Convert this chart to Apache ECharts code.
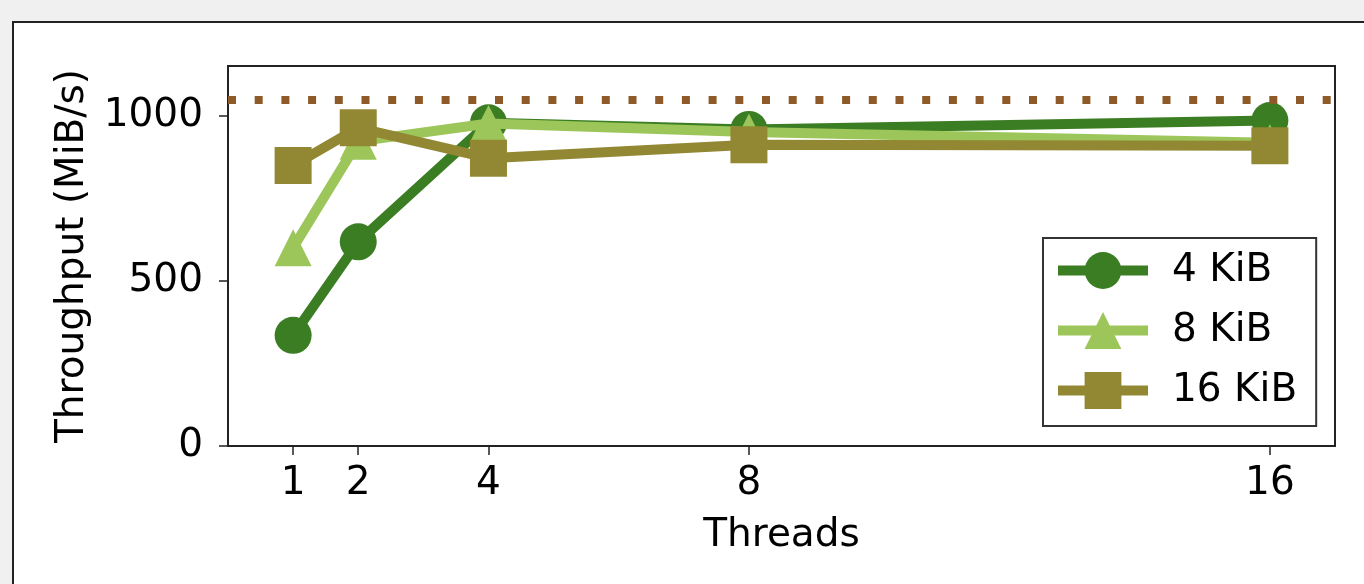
<!DOCTYPE html>
<html lang="en">
<head>
    <title>Throughput vs Threads</title>
    <meta charset="utf-8">
    <style>
        html, body { margin: 0; padding: 0; background: #f0f0f0; overflow: hidden; }
        .panel { position: absolute; left: 12px; top: 21px; width: 1400px; height: 600px;
                 background: #fff; border-left: 2px solid #222; border-top: 2px solid #222; }
        #chart { position: absolute; left: 0; top: 0; width: 1364px; height: 584px; }
    </style>
</head>
<body>
    <div class="panel"></div>
    <div id="chart"></div>
    <script src="https://cdn.jsdelivr.net/npm/echarts@6/dist/echarts.min.js"></script>
    <script type="text/javascript">
        // 数据
        var threads = [1, 2, 4, 8, 16];
        var kib4 = [335, 618, 978, 958, 985];
        var kib8 = [600, 922, 976, 950, 918];
        var kib16 = [849, 963, 871, 912, 909];
        var seriesNames = ["4 KiB", "8 KiB", "16 KiB"];
        var peak = 1047;
        var yTicks = [0, 500, 1000];

        var font = "DejaVu Sans";
        function pairs(vals) {
            return threads.map(function (t, i) { return [t, vals[i]]; });
        }
        function lineSeries(name, vals, color, symbol, z) {
            return {
                name: name,
                type: "line",
                z: z,
                data: pairs(vals),
                symbol: symbol,
                symbolSize: 37,
                lineStyle: { width: 10, color: color, join: "round" },
                itemStyle: { color: color },
                emphasis: { disabled: true }
            };
        }

        var chart = echarts.init(document.getElementById("chart"));
        var series = [
            lineSeries(seriesNames[0], kib4, "#3b7d23", "circle", 3),
            lineSeries(seriesNames[1], kib8, "#9dc65a", "triangle", 4),
            lineSeries(seriesNames[2], kib16, "#928833", "rect", 5)
        ];
        // 虚线 峰值
        series[0].markLine = {
            silent: true,
            symbol: "none",
            label: { show: false },
            lineStyle: { color: "#8e5a27", width: 8, type: [8, 18.7], cap: "butt" },
            data: [{ yAxis: peak }]
        };

        chart.setOption({
            animation: false,
            backgroundColor: "transparent",
            textStyle: { fontFamily: font },
            grid: {
                left: 228, top: 66, right: 29, bottom: 138,
                show: true, borderColor: "#222", borderWidth: 2, backgroundColor: "#fff"
            },
            xAxis: {
                type: "value",
                min: 0, max: 17,
                name: "Threads",
                nameLocation: "middle",
                nameGap: 70,
                nameTextStyle: { fontSize: 39, color: "#000", fontFamily: font },
                axisLine: { show: false },
                splitLine: { show: false },
                axisTick: { show: true, length: 9, lineStyle: { color: "#222", width: 1.5 }, customValues: threads },
                axisLabel: { fontSize: 39, color: "#000", margin: 18, fontFamily: font, customValues: threads,
                    formatter: function (v) { return String(v); } }
            },
            yAxis: {
                type: "value",
                min: 0, max: 1150,
                name: "Throughput (MiB/s)",
                nameLocation: "middle",
                nameRotate: 90,
                nameGap: 125,
                nameTextStyle: { fontSize: 39, color: "#000", fontFamily: font },
                axisLine: { show: false },
                splitLine: { show: false },
                axisTick: { show: true, length: 9, lineStyle: { color: "#222", width: 1.5 }, customValues: yTicks },
                axisLabel: { fontSize: 39, color: "#000", margin: 25, fontFamily: font, customValues: yTicks,
                    formatter: function (v) { return String(v); } }
            },
            legend: {
                orient: "vertical",
                left: 1043, top: 238,
                padding: [13, 19, 16, 10],
                itemWidth: 90, itemHeight: 46, itemGap: 21,
                backgroundColor: "#fff",
                borderColor: "#333", borderWidth: 2, borderRadius: 0,
                lineStyle: { width: 10 },
                textStyle: { fontSize: 39, color: "#000", fontFamily: font, padding: [0, 0, 0, 19] },
                data: seriesNames
            },
            series: series
        });
    </script>
</body>
</html>
